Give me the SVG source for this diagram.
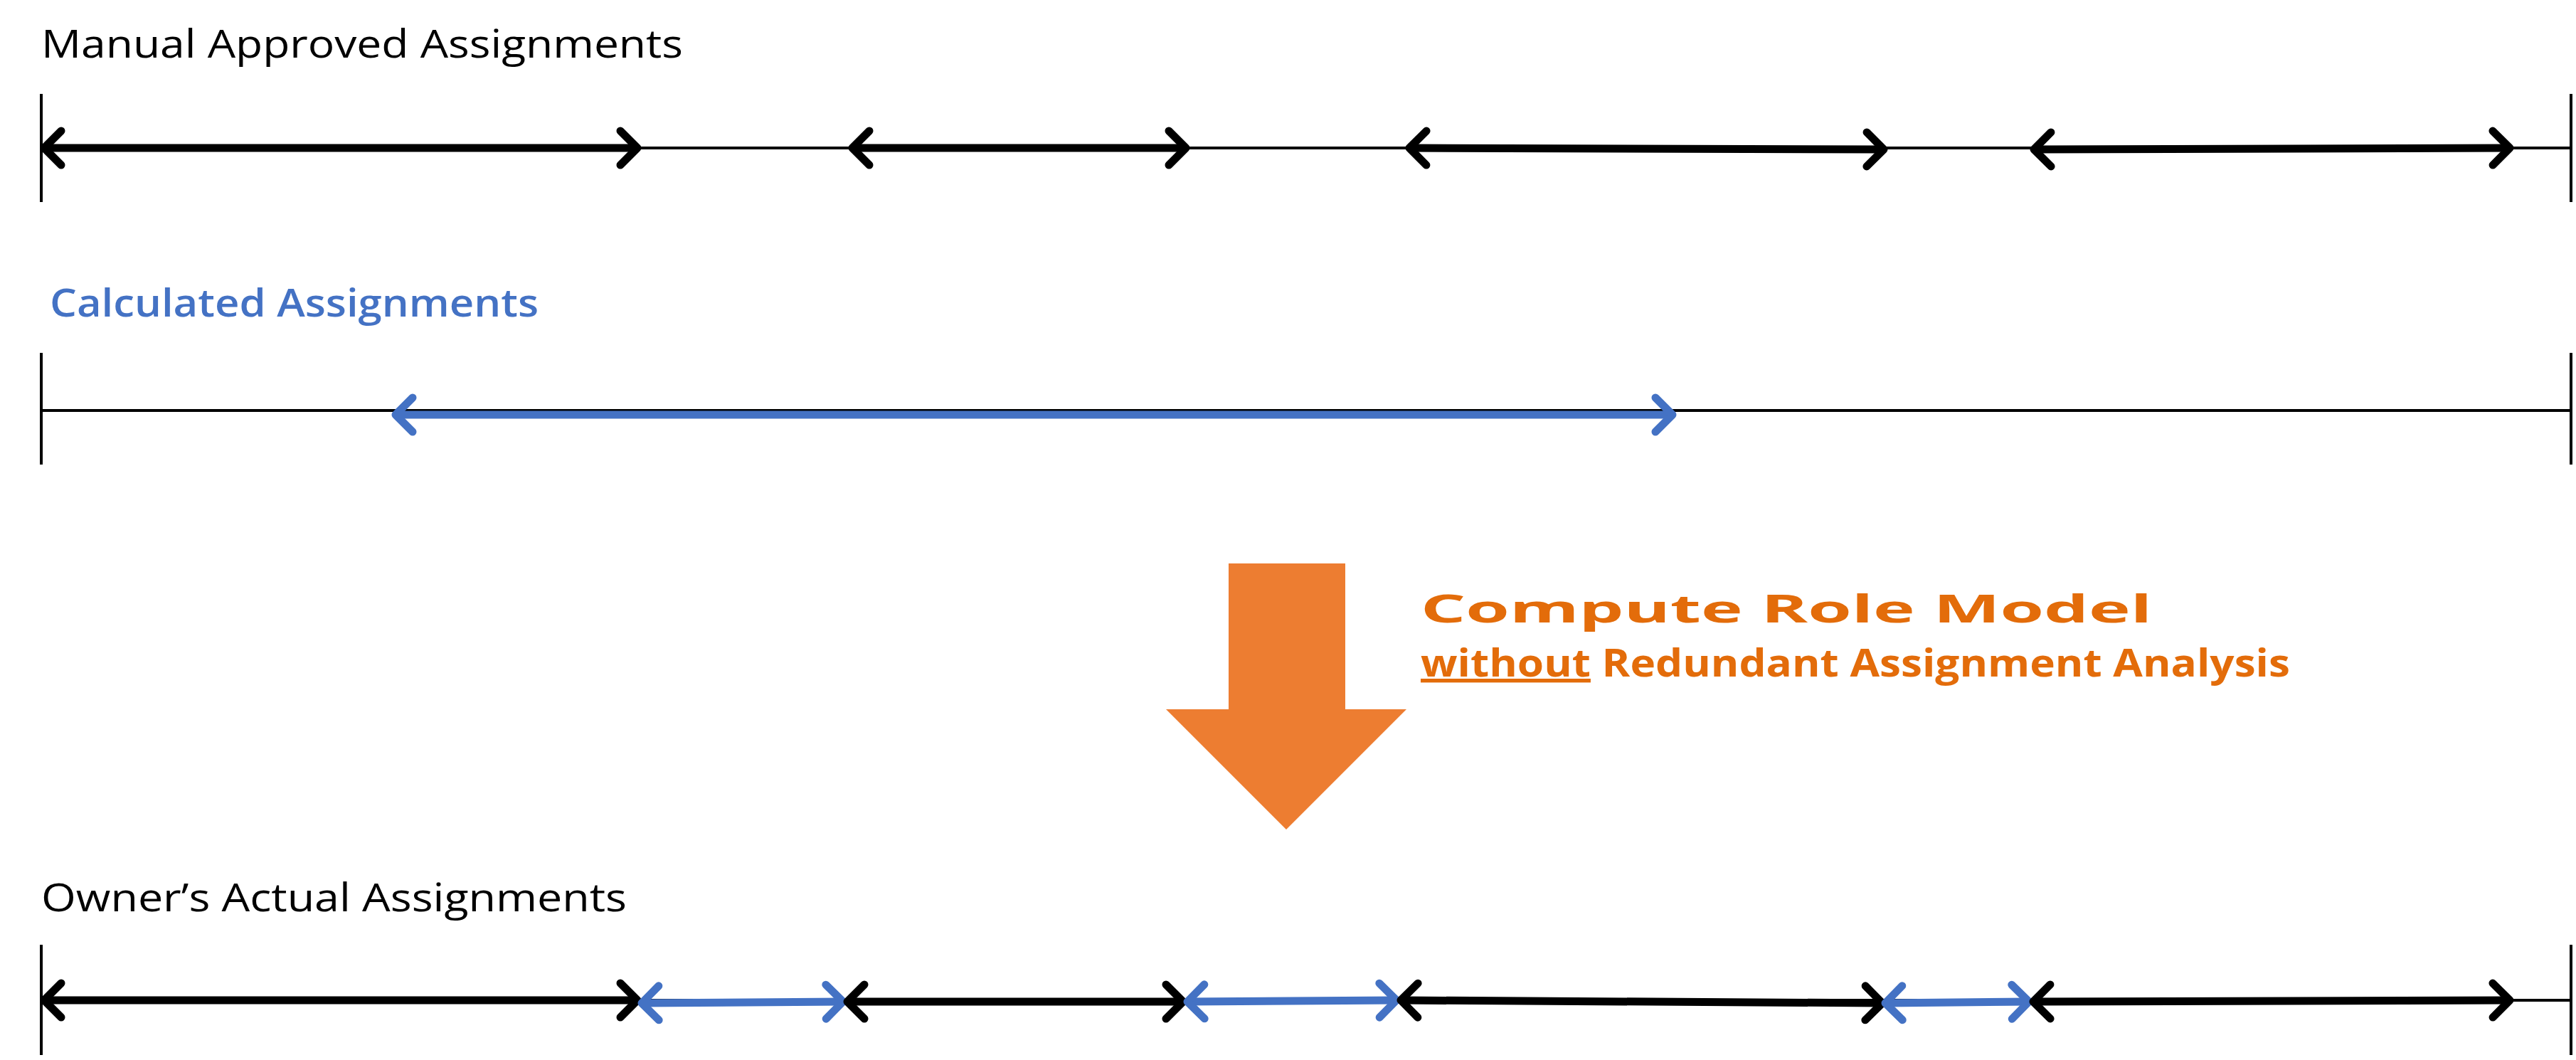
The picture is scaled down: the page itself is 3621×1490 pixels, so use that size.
<svg xmlns="http://www.w3.org/2000/svg" width="3621" height="1490" viewBox="0 0 3621 1490">
<style>
.t{font-family:"Open Sans","Noto Sans",sans-serif;font-size:54px}
.k{fill:#000;font-weight:500}
.b{fill:#4472C4;font-weight:600}
.o{fill:#E36C0A;font-weight:700}
.thin{stroke:#000;stroke-width:4;fill:none}
.ab{stroke:#000;stroke-width:11;fill:none;marker-start:url(#hk);marker-end:url(#hk)}
.ablue{stroke:#4472C4;stroke-width:11;fill:none;marker-start:url(#hb);marker-end:url(#hb)}
</style>
<defs>
<marker id="hk" markerUnits="userSpaceOnUse" orient="auto-start-reverse" refX="0" refY="0" markerWidth="60" markerHeight="60" viewBox="-30 -30 60 60" overflow="visible"><path d="M-24,-24 L0,0 L-24,24" fill="none" stroke="#000" stroke-width="11" stroke-linecap="round" stroke-linejoin="round"/></marker>
<marker id="hb" markerUnits="userSpaceOnUse" orient="auto-start-reverse" refX="0" refY="0" markerWidth="60" markerHeight="60" viewBox="-30 -30 60 60" overflow="visible"><path d="M-24,-24 L0,0 L-24,24" fill="none" stroke="#4472C4" stroke-width="11" stroke-linecap="round" stroke-linejoin="round"/></marker>
</defs>
<rect width="3621" height="1490" fill="#fff"/>
<g id="manual">
<text class="t k" x="58" y="81" textLength="902" lengthAdjust="spacingAndGlyphs">Manual Approved Assignments</text>
<line class="thin" x1="58" y1="132" x2="58" y2="284"/>
<line class="thin" x1="3614" y1="132" x2="3614" y2="284"/>
<line class="thin" x1="58" y1="208" x2="3614" y2="208"/>
</g>
<g id="calculated">
<text class="t b" x="70" y="445" textLength="687" lengthAdjust="spacingAndGlyphs">Calculated Assignments</text>
<line class="thin" x1="58" y1="496" x2="58" y2="653"/>
<line class="thin" x1="3614" y1="496" x2="3614" y2="653"/>
<line class="thin" x1="58" y1="577" x2="3614" y2="577"/>
</g>
<g id="compute">
<polygon points="1727,792 1891,792 1891,997 1977,997 1808,1166 1639,997 1727,997" fill="#ED7D31"/>
<text class="t o" x="1997" y="875" textLength="1028" lengthAdjust="spacingAndGlyphs">Compute Role Model</text>
<text class="t o" x="1997" y="951" textLength="1222" lengthAdjust="spacingAndGlyphs"><tspan text-decoration="underline">without</tspan> Redundant Assignment Analysis</text>
</g>
<g id="owner">
<text class="t k" x="58" y="1281" textLength="823" lengthAdjust="spacingAndGlyphs">Owner’s Actual Assignments</text>
<line class="thin" x1="58" y1="1328" x2="58" y2="1483"/>
<line class="thin" x1="3614" y1="1328" x2="3614" y2="1483"/>
<line class="thin" x1="58" y1="1406" x2="3614" y2="1406"/>
</g>
<g id="connectors">
<line class="ab" x1="62" y1="208" x2="896" y2="208"/>
<line class="ab" x1="1198" y1="208" x2="1667" y2="208"/>
<line class="ab" x1="1981" y1="208" x2="2648" y2="210"/>
<line class="ab" x1="2859" y1="210" x2="3528" y2="208"/>
<line class="ablue" x1="556" y1="583" x2="2351" y2="583"/>
<line class="ab" x1="62" y1="1406" x2="896" y2="1406"/>
<line class="ablue" x1="902" y1="1410" x2="1185" y2="1408"/>
<line class="ab" x1="1191" y1="1408" x2="1663" y2="1408"/>
<line class="ablue" x1="1669" y1="1408" x2="1963" y2="1406"/>
<line class="ab" x1="1969" y1="1406" x2="2646" y2="1410"/>
<line class="ablue" x1="2650" y1="1410" x2="2852" y2="1408"/>
<line class="ab" x1="2858" y1="1408" x2="3528" y2="1406"/>
</g>
</svg>
